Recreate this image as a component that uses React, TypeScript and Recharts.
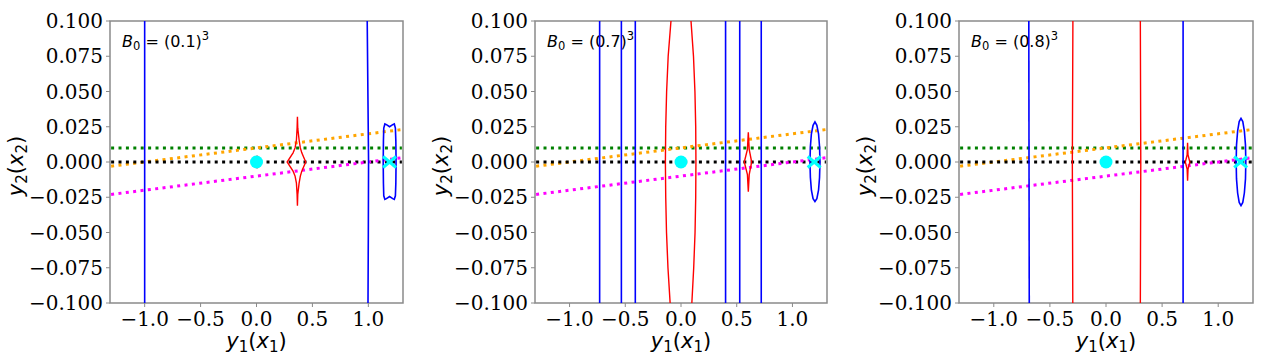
import React from "react";
import { ComposedChart, Line, Scatter, XAxis, YAxis, ReferenceArea } from "recharts";

type Pt = { x: number; y: number };

// shared axes
const xTicks = [-1, -0.5, 0, 0.5, 1];
const yTicks = [-0.1, -0.075, -0.05, -0.025, 0, 0.025, 0.05, 0.075, 0.1];

// straight dotted lines (same in every panel)
const greenLine: Pt[] = [{ x: -1.3, y: 0.01 }, { x: 1.3, y: 0.01 }];
const blackLine: Pt[] = [{ x: -1.3, y: 0 }, { x: 1.3, y: 0 }];
const orangeLine: Pt[] = [{ x: -1.3, y: -0.003 }, { x: 1.3, y: 0.023 }];
const magentaLine: Pt[] = [{ x: -1.3, y: -0.023 }, { x: 1.3, y: 0.003 }];
const originPoint: Pt[] = [{ x: 0, y: 0 }];

// panel 1 : B0 = (0.1)^3
const p1Blue: Pt[][] = [
  [{ x: -1.0, y: 0.1 }, { x: -1.0, y: -0.1 }],
  [{ x: 0.99, y: 0.1 }, { x: 0.996, y: 0.05 }, { x: 1.002, y: 0 }, { x: 1.0, y: -0.05 }, { x: 0.997, y: -0.1 }],
  [
    { x: 1.135, y: 0.015 }, { x: 1.138, y: 0.024 }, { x: 1.148, y: 0.027 }, { x: 1.162, y: 0.0265 },
    { x: 1.19, y: 0.025 }, { x: 1.218, y: 0.0265 }, { x: 1.232, y: 0.027 }, { x: 1.242, y: 0.024 },
    { x: 1.246, y: 0.015 }, { x: 1.248, y: 0 }, { x: 1.246, y: -0.015 }, { x: 1.242, y: -0.024 },
    { x: 1.232, y: -0.0265 }, { x: 1.218, y: -0.026 }, { x: 1.19, y: -0.0245 }, { x: 1.162, y: -0.026 },
    { x: 1.148, y: -0.0265 }, { x: 1.138, y: -0.024 }, { x: 1.135, y: -0.015 }, { x: 1.133, y: 0 },
    { x: 1.135, y: 0.015 },
  ],
];
const p1Red: Pt[][] = [
  [
    { x: 0.366, y: 0.032 }, { x: 0.363, y: 0.024 }, { x: 0.357, y: 0.0156 }, { x: 0.345, y: 0.01 },
    { x: 0.327, y: 0.0065 }, { x: 0.274, y: 0 }, { x: 0.327, y: -0.0065 }, { x: 0.345, y: -0.01 },
    { x: 0.357, y: -0.015 }, { x: 0.363, y: -0.023 }, { x: 0.366, y: -0.031 }, { x: 0.369, y: -0.023 },
    { x: 0.381, y: -0.015 }, { x: 0.392, y: -0.01 }, { x: 0.405, y: -0.0065 }, { x: 0.44, y: 0 },
    { x: 0.405, y: 0.0065 }, { x: 0.392, y: 0.01 }, { x: 0.381, y: 0.0156 }, { x: 0.369, y: 0.024 },
    { x: 0.366, y: 0.032 },
  ],
  [{ x: -0.025, y: 0 }, { x: 0.005, y: 0.004 }, { x: 0.04, y: 0 }, { x: 0.005, y: -0.004 }, { x: -0.025, y: 0 }],
];
const p1Cross: Pt[] = [{ x: 1.19, y: 0 }];

// panel 2 : B0 = (0.7)^3
const p2Blue: Pt[][] = [
  [{ x: -0.73, y: 0.1 }, { x: -0.73, y: -0.1 }],
  [{ x: -0.535, y: 0.1 }, { x: -0.535, y: -0.1 }],
  [{ x: -0.41, y: 0.1 }, { x: -0.41, y: -0.1 }],
  [{ x: 0.4, y: 0.1 }, { x: 0.4, y: -0.1 }],
  [{ x: 0.527, y: 0.1 }, { x: 0.527, y: -0.1 }],
  [{ x: 0.72, y: 0.1 }, { x: 0.72, y: -0.1 }],
  [
    { x: 1.247, y: 0 }, { x: 1.243, y: 0.011 }, { x: 1.234, y: 0.02 }, { x: 1.219, y: 0.026 },
    { x: 1.202, y: 0.0285 }, { x: 1.185, y: 0.026 }, { x: 1.17, y: 0.02 }, { x: 1.161, y: 0.011 },
    { x: 1.157, y: 0 }, { x: 1.161, y: -0.011 }, { x: 1.17, y: -0.02 }, { x: 1.185, y: -0.026 },
    { x: 1.202, y: -0.028 }, { x: 1.219, y: -0.026 }, { x: 1.234, y: -0.02 }, { x: 1.243, y: -0.011 },
    { x: 1.247, y: 0 },
  ],
];
const p2Red: Pt[][] = [
  [
    { x: -0.088, y: 0.102 }, { x: -0.115, y: 0.075 }, { x: -0.129, y: 0.05 }, { x: -0.137, y: 0.025 },
    { x: -0.14, y: 0 }, { x: -0.137, y: -0.025 }, { x: -0.13, y: -0.05 }, { x: -0.117, y: -0.075 },
    { x: -0.096, y: -0.102 },
  ],
  [
    { x: 0.088, y: 0.102 }, { x: 0.112, y: 0.075 }, { x: 0.125, y: 0.05 }, { x: 0.132, y: 0.025 },
    { x: 0.134, y: 0 }, { x: 0.132, y: -0.025 }, { x: 0.126, y: -0.05 }, { x: 0.114, y: -0.075 },
    { x: 0.096, y: -0.102 },
  ],
  [
    { x: 0.604, y: 0.021 }, { x: 0.612, y: 0.009 }, { x: 0.634, y: 0 }, { x: 0.612, y: -0.009 },
    { x: 0.604, y: -0.021 }, { x: 0.596, y: -0.009 }, { x: 0.568, y: 0 }, { x: 0.596, y: 0.009 },
    { x: 0.604, y: 0.021 },
  ],
];
const p2Cross: Pt[] = [{ x: 1.195, y: 0 }];

// panel 3 : B0 = (0.8)^3
const p3Blue: Pt[][] = [
  [{ x: -0.688, y: 0.1 }, { x: -0.684, y: -0.1 }],
  [{ x: 0.687, y: 0.1 }, { x: 0.687, y: -0.1 }],
  [
    { x: 1.246, y: 0 }, { x: 1.243, y: 0.012 }, { x: 1.233, y: 0.022 }, { x: 1.219, y: 0.0287 },
    { x: 1.203, y: 0.031 }, { x: 1.187, y: 0.0287 }, { x: 1.173, y: 0.022 }, { x: 1.163, y: 0.012 },
    { x: 1.16, y: 0 }, { x: 1.163, y: -0.012 }, { x: 1.173, y: -0.022 }, { x: 1.187, y: -0.0287 },
    { x: 1.203, y: -0.031 }, { x: 1.219, y: -0.0287 }, { x: 1.233, y: -0.022 }, { x: 1.243, y: -0.012 },
    { x: 1.246, y: 0 },
  ],
];
const p3Red: Pt[][] = [
  [{ x: -0.295, y: 0.1 }, { x: -0.3, y: 0 }, { x: -0.296, y: -0.1 }],
  [{ x: 0.306, y: 0.1 }, { x: 0.31, y: 0 }, { x: 0.306, y: -0.1 }],
  [
    { x: 0.727, y: 0.0137 }, { x: 0.731, y: 0.005 }, { x: 0.747, y: 0 }, { x: 0.731, y: -0.005 },
    { x: 0.727, y: -0.0133 }, { x: 0.723, y: -0.005 }, { x: 0.707, y: 0 }, { x: 0.723, y: 0.005 },
    { x: 0.727, y: 0.0137 },
  ],
];
const p3Cross: Pt[] = [{ x: 1.2, y: 0 }];

const panels = [
  { left: 0, width: 420, plotLeft: 110, right: 17, b0: "0.1", blue: p1Blue, red: p1Red, cross: p1Cross },
  { left: 420, width: 420, plotLeft: 115, right: 13, b0: "0.7", blue: p2Blue, red: p2Red, cross: p2Cross },
  { left: 840, width: 428, plotLeft: 119, right: 15, b0: "0.8", blue: p3Blue, red: p3Red, cross: p3Cross },
];

const fmt = (d: number) => (v: number) => {
  const s = Math.abs(v).toFixed(d);
  return v < -1e-9 ? "\u2212" + s : s;
};

const FRAME = "#8a8a8a";
const tickFont = { fontFamily: "DejaVu Serif", fontSize: 20, fill: "#000" };

const XLabel = ({ viewBox }: any) => {
  const cx = viewBox.x + viewBox.width / 2;
  return (
    <text x={cx} y={viewBox.y + 45} textAnchor="middle" fontFamily="DejaVu Sans" fontSize={21} fill="#000">
      <tspan fontStyle="italic">y</tspan>
      <tspan fontSize={15} dy={4}>1</tspan>
      <tspan dy={-4}>(</tspan>
      <tspan fontStyle="italic">x</tspan>
      <tspan fontSize={15} dy={4}>1</tspan>
      <tspan dy={-4}>)</tspan>
    </text>
  );
};

const YLabel = ({ viewBox }: any) => {
  const bx = viewBox.x + viewBox.width - 87.5;
  const cy = viewBox.y + viewBox.height / 2 + 4;
  return (
    <text x={bx} y={cy} transform={`rotate(-90 ${bx} ${cy})`} textAnchor="middle" fontFamily="DejaVu Sans" fontSize={21} fill="#000">
      <tspan fontStyle="italic">y</tspan>
      <tspan fontSize={15} dy={4}>2</tspan>
      <tspan dy={-4}>(</tspan>
      <tspan fontStyle="italic">x</tspan>
      <tspan fontSize={15} dy={4}>2</tspan>
      <tspan dy={-4}>)</tspan>
    </text>
  );
};

const Annotation = (b0: string) => ({ viewBox }: any) => (
  <text x={viewBox.x + 12} y={viewBox.y + 26} fontFamily="DejaVu Sans" fontSize={16} fill="#000" style={{ whiteSpace: "pre" }}>
    <tspan fontStyle="italic">B</tspan>
    <tspan fontSize={11.5} dy={3}>0</tspan>
    <tspan dy={-3}>{` = (${b0})`}</tspan>
    <tspan fontSize={11.5} dy={-7}>3</tspan>
  </text>
);

const dotted = (key: string, data: Pt[], color: string) => (
  <Line
    key={key}
    data={data}
    dataKey="y"
    type="linear"
    stroke={color}
    strokeWidth={3}
    strokeDasharray="3 4.4"
    dot={false}
    activeDot={false}
    isAnimationActive={false}
  />
);

const solid = (key: string, data: Pt[], color: string, w: number) => (
  <Line
    key={key}
    data={data}
    dataKey="y"
    type="linear"
    stroke={color}
    strokeWidth={w}
    dot={false}
    activeDot={false}
    isAnimationActive={false}
  />
);

const CyanDot = (props: any) => <circle cx={props.cx} cy={props.cy} r={6.5} fill="#00ffff" />;
const CyanCross = (props: any) => (
  <g stroke="#00ffff" strokeWidth={3}>
    <line x1={props.cx - 6.5} y1={props.cy - 5.5} x2={props.cx + 6.5} y2={props.cy + 5.5} />
    <line x1={props.cx - 6.5} y1={props.cy + 5.5} x2={props.cx + 6.5} y2={props.cy - 5.5} />
  </g>
);

const Panel = ({ p }: { p: (typeof panels)[number] }) => (
  <div style={{ position: "absolute", left: p.left, top: 0 }}>
    <ComposedChart width={p.width} height={362} margin={{ top: 21, right: p.right, bottom: 0, left: 10 }}>
      <XAxis
        dataKey="x"
        type="number"
        domain={[-1.31, 1.31]}
        allowDataOverflow
        ticks={xTicks}
        interval={0}
        tickFormatter={fmt(1)}
        tick={tickFont}
        tickSize={4}
        tickMargin={5}
        axisLine={false}
        tickLine={{ stroke: FRAME }}
        height={59}
        label={{ content: XLabel }}
      />
      <YAxis
        dataKey="y"
        type="number"
        domain={[-0.1, 0.1]}
        allowDataOverflow
        ticks={yTicks}
        interval={0}
        tickFormatter={fmt(3)}
        tick={tickFont}
        tickSize={4}
        tickMargin={3}
        axisLine={false}
        tickLine={{ stroke: FRAME }}
        width={p.plotLeft - 10}
        label={{ content: YLabel }}
      />
      <ReferenceArea
        x1={-1.31}
        x2={1.31}
        y1={-0.1}
        y2={0.1}
        fill="none"
        fillOpacity={0}
        stroke={FRAME}
        strokeWidth={1.5}
        label={{ content: Annotation(p.b0) }}
      />
      {dotted("green", greenLine, "#008000")}
      {dotted("orange", orangeLine, "#ffa500")}
      {dotted("black", blackLine, "#000000")}
      {dotted("magenta", magentaLine, "#ff00ff")}
      <Scatter data={originPoint} shape={CyanDot} isAnimationActive={false} />
      {p.blue.map((c, i) => solid(`b${i}`, c, "#0000ff", 1.6))}
      {p.red.map((c, i) => solid(`r${i}`, c, "#ff0000", 1.4))}
      <Scatter data={p.cross} shape={CyanCross} isAnimationActive={false} />
    </ComposedChart>
  </div>
);

export default function App() {
  return (
    <div style={{ position: "absolute", left: 0, top: 0, width: 1268, height: 362, background: "#fff" }}>
      {panels.map((p) => (
        <Panel key={p.left} p={p} />
      ))}
    </div>
  );
}
